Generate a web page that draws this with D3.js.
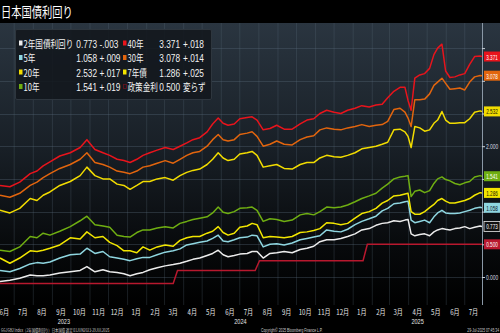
<!DOCTYPE html>
<html><head><meta charset="utf-8">
<script src="https://cdn.jsdelivr.net/npm/d3@7"></script>
<style>html,body{margin:0;padding:0;background:#000;}svg{display:block;}</style>
</head><body>
<script>
const dates = ["2023-06-08","2023-06-24","2023-07-10","2023-07-27","2023-08-07","2023-08-17","2023-08-28","2023-09-13","2023-09-30","2023-10-16","2023-10-27","2023-11-09","2023-11-22","2023-12-03","2023-12-15","2023-12-26","2024-01-05","2024-01-16","2024-01-26","2024-02-06","2024-02-18","2024-03-02","2024-03-15","2024-03-26","2024-04-06","2024-04-16","2024-04-27","2024-05-09","2024-05-18","2024-05-27","2024-06-04","2024-06-12","2024-06-22","2024-07-01","2024-07-13","2024-07-21","2024-07-29","2024-08-08","2024-08-19","2024-08-30","2024-09-11","2024-09-24","2024-10-07","2024-10-18","2024-10-29","2024-11-08","2024-11-19","2024-12-01","2024-12-12","2024-12-23","2025-01-04","2025-01-15","2025-01-27","2025-02-07","2025-02-17","2025-02-26","2025-03-08","2025-03-18","2025-03-26","2025-03-31","2025-04-05","2025-04-11","2025-04-19","2025-04-27","2025-05-05","2025-05-12","2025-05-18","2025-05-25","2025-05-31","2025-06-07","2025-06-15","2025-06-23","2025-07-01","2025-07-09","2025-07-17","2025-07-26","2025-07-29"];

const y2  = [-0.07,-0.05,-0.02,0.03,0.02,0.02,0.03,0.06,0.08,0.10,0.16,0.08,0.11,0.08,0.07,0.05,0.02,0.05,0.07,0.11,0.14,0.17,0.19,0.21,0.24,0.27,0.29,0.33,0.36,0.41,0.34,0.31,0.33,0.35,0.36,0.39,0.39,0.29,0.36,0.37,0.39,0.37,0.42,0.44,0.47,0.54,0.57,0.57,0.59,0.62,0.66,0.72,0.74,0.79,0.82,0.83,0.86,0.85,0.87,0.88,0.66,0.63,0.65,0.66,0.63,0.69,0.72,0.74,0.73,0.72,0.74,0.75,0.77,0.74,0.76,0.78,0.773];
const y5  = [0.10,0.08,0.13,0.20,0.22,0.21,0.23,0.29,0.34,0.35,0.44,0.36,0.39,0.31,0.29,0.27,0.25,0.28,0.30,0.30,0.34,0.38,0.40,0.43,0.49,0.51,0.53,0.55,0.59,0.64,0.55,0.54,0.57,0.60,0.61,0.64,0.63,0.46,0.50,0.51,0.49,0.52,0.57,0.59,0.61,0.63,0.72,0.70,0.69,0.73,0.80,0.85,0.89,0.93,1.01,1.05,1.12,1.13,1.15,1.16,0.87,0.83,0.85,0.87,0.83,0.92,0.98,1.02,0.98,0.97,0.97,0.98,1.00,1.02,1.05,1.066,1.058];
const y7  = [0.29,0.21,0.29,0.40,0.39,0.41,0.44,0.49,0.60,0.58,0.69,0.60,0.62,0.53,0.48,0.40,0.40,0.37,0.46,0.41,0.46,0.49,0.47,0.56,0.60,0.62,0.62,0.67,0.70,0.77,0.68,0.64,0.67,0.76,0.78,0.82,0.80,0.60,0.62,0.61,0.60,0.62,0.68,0.69,0.71,0.74,0.83,0.82,0.80,0.82,0.90,0.97,1.00,1.05,1.13,1.17,1.24,1.25,1.27,1.28,1.00,0.96,0.96,1.00,1.06,1.11,1.17,1.20,1.16,1.13,1.13,1.15,1.17,1.20,1.25,1.29,1.286];
const y10 = [0.41,0.39,0.46,0.62,0.60,0.67,0.64,0.70,0.77,0.86,0.93,0.80,0.78,0.76,0.64,0.62,0.61,0.68,0.72,0.72,0.75,0.77,0.75,0.82,0.85,0.88,0.90,0.92,0.98,1.07,0.99,0.97,1.00,1.05,1.06,1.07,1.02,0.85,0.89,0.88,0.85,0.87,0.95,0.97,0.95,1.00,1.07,1.06,1.07,1.10,1.15,1.20,1.24,1.28,1.36,1.42,1.50,1.53,1.54,1.55,1.23,1.31,1.33,1.29,1.32,1.43,1.50,1.53,1.49,1.47,1.43,1.41,1.44,1.46,1.53,1.55,1.541];
const y20 = [1.02,0.98,1.05,1.20,1.17,1.25,1.30,1.40,1.46,1.55,1.68,1.55,1.50,1.50,1.42,1.40,1.34,1.40,1.46,1.46,1.50,1.52,1.48,1.55,1.60,1.63,1.65,1.72,1.80,1.90,1.82,1.78,1.80,1.88,1.90,1.92,1.86,1.68,1.70,1.72,1.66,1.65,1.72,1.75,1.75,1.82,1.86,1.84,1.83,1.86,1.90,1.96,1.98,2.00,2.03,2.06,2.25,2.26,2.22,2.15,1.98,2.30,2.28,2.23,2.25,2.35,2.40,2.53,2.40,2.35,2.35,2.36,2.36,2.42,2.52,2.54,2.532];
const y30 = [1.25,1.22,1.28,1.40,1.45,1.52,1.58,1.66,1.72,1.80,1.90,1.75,1.72,1.68,1.62,1.60,1.58,1.62,1.68,1.70,1.74,1.78,1.74,1.80,1.86,1.90,1.92,2.00,2.10,2.18,2.10,2.08,2.10,2.18,2.20,2.22,2.15,2.00,2.03,2.08,2.03,2.02,2.10,2.14,2.16,2.25,2.28,2.26,2.25,2.28,2.30,2.33,2.30,2.32,2.33,2.38,2.56,2.58,2.52,2.43,2.30,2.71,2.71,2.72,2.80,2.93,2.98,3.04,2.96,2.87,2.88,2.89,2.86,2.98,3.06,3.08,3.078];
const y40 = [1.40,1.38,1.45,1.58,1.62,1.70,1.76,1.85,1.90,1.98,2.10,1.95,1.90,1.86,1.80,1.78,1.75,1.80,1.86,1.90,1.94,1.98,1.95,2.00,2.05,2.10,2.13,2.22,2.34,2.43,2.35,2.32,2.34,2.42,2.44,2.45,2.40,2.25,2.27,2.32,2.26,2.26,2.34,2.40,2.42,2.50,2.55,2.52,2.50,2.55,2.58,2.62,2.60,2.63,2.64,2.74,2.84,2.90,2.90,2.70,2.55,3.04,3.09,3.11,3.19,3.40,3.50,3.56,3.15,3.05,3.06,3.09,3.11,3.25,3.37,3.38,3.371];

const policyDates  = ["2023-06-08","2024-03-15","2024-03-22","2024-07-26","2024-08-02","2025-01-17","2025-01-24","2025-07-29"];
const policyValues = [-0.1,-0.1,0.1,0.1,0.25,0.25,0.5,0.5];

const seriesNames  = ["2年国債利回り","5年","20年","10年","40年","30年","7年債","政策金利"];
const seriesLast   = ["0.773","1.058","2.532","1.541","3.371","3.078","1.286","0.500"];
const seriesChange = ["-.003","+.009","+.017","+.019","+.018","+.014","+.025","変らず"];
const seriesColors = ["#ececec","#8fd6e0","#f2dc00","#6fae12","#e8141c","#e2650e","#f2e600","#b8182e"];

const yTicks = [0,0.5,1,1.5,2,2.5,3,3.5];
const yearLabels = ["2023","2024","2025"];
const titleText = "日本国債利回り";
const footLeft = "GGJGB2 Index（2年国債利回り）日本国債 週足 01JUN2023-29JUL2025";
const footMid = "Copyright© 2025 Bloomberg Finance L.P.";
const footRight = "29-Jul-2025 07:45:34";

const W = 500, H = 333;
const CJK = "'Noto Sans CJK JP','Liberation Sans',sans-serif";
const NUM = "'Liberation Sans','Noto Sans CJK JP',sans-serif";
const parse = d3.timeParse("%Y-%m-%d");
const dts = dates.map(parse);

const svg = d3.select("body").append("svg").attr("width", W).attr("height", H);
const defs = svg.append("defs");
const grad = defs.append("linearGradient").attr("id","bg").attr("x1",0).attr("y1",0).attr("x2",0).attr("y2",1);
grad.append("stop").attr("offset","0%").attr("stop-color","#2a3540");
grad.append("stop").attr("offset","45%").attr("stop-color","#181f26");
grad.append("stop").attr("offset","80%").attr("stop-color","#07090b");
grad.append("stop").attr("offset","100%").attr("stop-color","#000");
defs.append("clipPath").attr("id","clip").append("rect").attr("x",0).attr("y",23).attr("width",482).attr("height",282);

svg.append("rect").attr("width",W).attr("height",H).attr("fill","#000");
svg.append("rect").attr("x",0).attr("y",23).attr("width",W).attr("height",282).attr("fill","url(#bg)");

const x = d3.scaleTime().domain([parse("2023-06-08"), parse("2025-07-29")]).range([0,482]);
const y = d3.scaleLinear().domain([0,3.5]).range([277,48.1]);

function ctext(g, str, px, py, size, sx, family, anchor, color){
  return g.append("text").attr("transform",`translate(${px},${py}) scale(${sx},1)`)
    .attr("font-size",size).attr("font-family",family).attr("text-anchor",anchor||"start")
    .attr("fill",color||"#fff").text(str);
}

// grid
const grid = svg.append("g");
d3.timeMonth.range(parse("2023-06-09"), parse("2025-07-29")).forEach(d=>{
  grid.append("line").attr("x1",x(d)).attr("x2",x(d)).attr("y1",23).attr("y2",305)
    .attr("stroke","#5a6a7a").attr("stroke-opacity",0.28).attr("stroke-width",1);
});
yTicks.forEach(t=>{
  grid.append("line").attr("x1",0).attr("x2",482).attr("y1",Math.round(y(t))+0.5).attr("y2",Math.round(y(t))+0.5)
    .attr("stroke","#5a6a7a").attr("stroke-opacity",0.35).attr("stroke-width",1);
});
svg.append("line").attr("x1",482.5).attr("x2",482.5).attr("y1",23).attr("y2",305).attr("stroke","#8a98a6").attr("stroke-width",1);

// right axis (labels hidden where a value tag covers them, as in the reference)
const tagYs = seriesLast.map(v=>y(+v));
const yAxis = d3.axisRight(y).tickValues(yTicks).tickSize(3).tickFormat(d3.format(".3f"));
const ya = svg.append("g").attr("transform","translate(482,0)").call(yAxis);
ya.select(".domain").remove();
ya.selectAll(".tick line").attr("stroke","#c8d0d8");
ya.selectAll(".tick text").remove();
yTicks.forEach(t=>{
  const ty = y(t);
  if (tagYs.some(v=>Math.abs(v-ty) < 10)) return;
  ctext(ya, d3.format(".3f")(t), 4, ty+2.5, 7.5, 0.66, NUM, "start", "#d8dde2");
});

// lines
const plot = svg.append("g").attr("clip-path","url(#clip)");
const line = d3.line().x((d,i)=>x(dts[i])).y(d=>y(d));
const plotOrder = [[y2,0],[y5,1],[y7,6],[y10,3],[y20,2],[y30,5],[y40,4]];
const pLine = d3.line().x((d,i)=>x(parse(policyDates[i]))).y(d=>y(d));
plot.append("path").attr("d",pLine(policyValues)).attr("fill","none").attr("stroke",seriesColors[7]).attr("stroke-width",1.5);
plotOrder.forEach(([arr,ci])=>{
  plot.append("path").attr("d",line(arr)).attr("fill","none").attr("stroke",seriesColors[ci])
    .attr("stroke-width",1.5).attr("stroke-linejoin","round");
});

// value tags
const tagOrder = [4,5,2,3,6,1,0,7];
const tagText = {0:"#fff",1:"#102028",2:"#202000",3:"#fff",4:"#fff",5:"#fff",6:"#202000",7:"#fff"};
tagOrder.forEach(i=>{
  const cy = tagYs[i];
  const g = svg.append("g");
  g.append("rect").attr("x",484).attr("y",cy-5).attr("width",16).attr("height",10)
    .attr("fill", i===0 ? "#111" : seriesColors[i]).attr("stroke", i===0 ? "#e8e8e8" : "none").attr("stroke-width",0.8);
  ctext(g, seriesLast[i], 492, cy+3, 7.5, 0.62, NUM, "middle", tagText[i]);
});

// x axis labels
const xa = svg.append("g");
const mids = d3.timeMonth.range(parse("2023-06-01"), parse("2025-07-02")).map(d=>new Date(d.getFullYear(), d.getMonth(), 15));
const xAxis = d3.axisBottom(x).tickValues(mids).tickSize(0).tickFormat(d=>(d.getMonth()+1)+"月");
const xg = svg.append("g").attr("transform","translate(0,305)").call(xAxis);
xg.select(".domain").remove();
xg.selectAll(".tick text").remove();
mids.forEach(d=>{ ctext(xg, (d.getMonth()+1)+"月", x(d), 9.5, 8, 0.76, CJK, "middle", "#e6e6e6"); });
yearLabels.forEach(yr=>{
  const a = d3.max([parse(yr+"-01-01"), x.domain()[0]]);
  const b = d3.min([parse((+yr+1)+"-01-01"), x.domain()[1]]);
  const cx = (x(a)+x(b))/2;
  ctext(xa, yr, cx, 323.8, 7.5, 0.74, NUM, "middle", "#e6e6e6");
});

// footer
ctext(svg, footLeft, 1, 331.6, 4.8, 0.7, CJK, "start", "#cfcfcf");
ctext(svg, footMid, 261, 331.6, 4.8, 0.7, NUM, "start", "#cfcfcf");
ctext(svg, footRight, 499, 331.6, 4.8, 0.7, NUM, "end", "#cfcfcf");

// title
ctext(svg, titleText, 1, 17, 13.5, 0.76, CJK, "start", "#fff");

// legend
const lg = svg.append("g");
lg.append("rect").attr("x",15.5).attr("y",29.5).attr("width",196).attr("height",70).attr("rx",1.5)
  .attr("fill","#12171c").attr("fill-opacity",0.88).attr("stroke","#2e363e").attr("stroke-width",1);
const rowY = [47.5,62,76.5,91];
const colDef = [{m:19,l:23.5,v:97,c:99.5},{m:123,l:127.5,v:180,c:183}];
seriesNames.forEach((nm,i)=>{
  const col = colDef[Math.floor(i/4)], by = rowY[i%4];
  if (i===7) {
    lg.append("rect").attr("x",col.m+0.5).attr("y",by-6.5).attr("width",3).attr("height",4)
      .attr("fill","none").attr("stroke","#6a1420").attr("stroke-width",0.8);
  } else {
    lg.append("rect").attr("x",col.m).attr("y",by-7).attr("width",3.5).attr("height",5).attr("fill",seriesColors[i]);
  }
  ctext(lg, nm, col.l, by, 10, 0.76, CJK, "start", "#f2f2f2");
  ctext(lg, seriesLast[i], col.v, by, 11.5, 0.72, NUM, "end", "#f2f2f2");
  ctext(lg, seriesChange[i], col.c, by, i===7?10:11.5, i===7?0.76:0.72, i===7?CJK:NUM, "start", "#f2f2f2");
});
</script>
</body></html>
